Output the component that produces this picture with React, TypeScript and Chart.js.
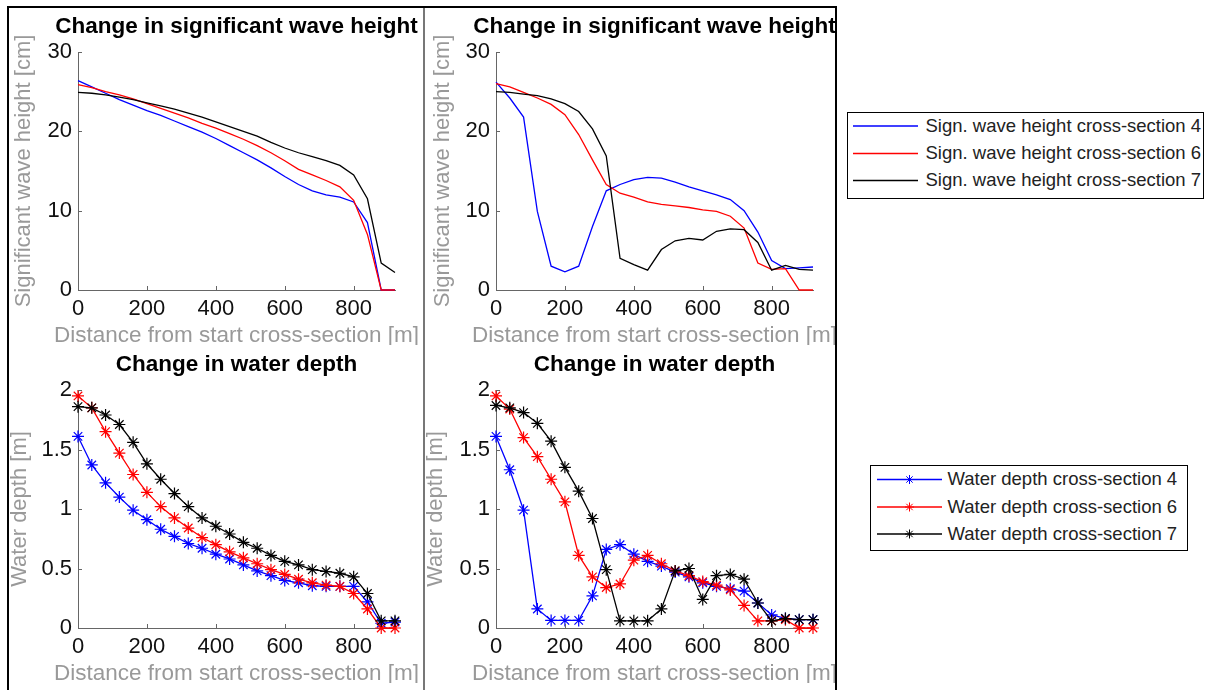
import React, { useEffect, useRef } from "react";
import { Chart, registerables } from "chart.js";

Chart.register(...registerables);

// ---------- data ----------
const distance = [0, 40, 80, 120, 160, 200, 240, 280, 320, 360, 400, 440, 480, 520, 560, 600, 640, 680, 720, 760, 800, 840, 880, 920];

const xTickValues = [0, 200, 400, 600, 800];
const xTickLabels = ["0", "200", "400", "600", "800"];
const waveTickValues = [0, 10, 20, 30];
const waveTickLabels = ["0", "10", "20", "30"];
const depthTickValues = [0, 0.5, 1, 1.5, 2];
const depthTickLabels = ["0", "0.5", "1", "1.5", "2"];

// left column – significant wave height [cm]
const waveA4 = [26.4, 25.6, 24.8, 24.0, 23.3, 22.6, 22.0, 21.3, 20.6, 19.9, 19.1, 18.2, 17.3, 16.4, 15.4, 14.3, 13.3, 12.5, 12.0, 11.7, 11.1, 8.5, 0, 0];
const waveA6 = [25.9, 25.5, 25.0, 24.6, 24.1, 23.5, 22.9, 22.3, 21.7, 21.0, 20.4, 19.7, 19.0, 18.2, 17.3, 16.3, 15.2, 14.5, 13.8, 13.0, 11.3, 7.0, 0, 0];
const waveA7 = [24.9, 24.8, 24.6, 24.3, 24.0, 23.6, 23.2, 22.8, 22.3, 21.8, 21.2, 20.6, 20.0, 19.4, 18.6, 17.9, 17.3, 16.8, 16.3, 15.7, 14.5, 11.5, 3.4, 2.2];

// right column – significant wave height [cm]
const waveB4 = [26.2, 24.2, 21.8, 9.9, 3.0, 2.3, 3.0, 8.0, 12.5, 13.3, 13.9, 14.2, 14.1, 13.6, 13.0, 12.5, 12.0, 11.4, 10.0, 7.3, 3.7, 2.7, 2.8, 2.9];
const waveB6 = [26.0, 25.6, 24.9, 24.2, 23.4, 22.1, 19.6, 16.4, 13.3, 12.2, 11.7, 11.1, 10.8, 10.6, 10.4, 10.1, 9.9, 9.3, 7.8, 3.4, 2.6, 2.7, 0, 0];
const waveB7 = [25.0, 24.9, 24.7, 24.5, 24.1, 23.5, 22.5, 20.3, 16.9, 4.0, 3.2, 2.5, 5.1, 6.2, 6.5, 6.3, 7.4, 7.7, 7.6, 6.0, 2.5, 3.1, 2.6, 2.5];

// left column – water depth [m]
const depthA4 = [1.61, 1.37, 1.22, 1.10, 0.99, 0.91, 0.83, 0.77, 0.71, 0.67, 0.62, 0.58, 0.53, 0.48, 0.44, 0.40, 0.38, 0.355, 0.35, 0.35, 0.35, 0.22, 0.04, 0.05];
const depthA6 = [1.95, 1.85, 1.65, 1.47, 1.29, 1.14, 1.02, 0.925, 0.84, 0.76, 0.70, 0.64, 0.59, 0.54, 0.49, 0.45, 0.41, 0.38, 0.36, 0.35, 0.29, 0.16, 0, 0];
const depthA7 = [1.86, 1.85, 1.79, 1.71, 1.56, 1.38, 1.25, 1.13, 1.02, 0.925, 0.855, 0.79, 0.72, 0.67, 0.61, 0.56, 0.53, 0.49, 0.475, 0.46, 0.43, 0.29, 0.06, 0.06];

// right column – water depth [m]
const depthB4 = [1.61, 1.33, 0.99, 0.16, 0.064, 0.064, 0.064, 0.27, 0.66, 0.70, 0.62, 0.56, 0.52, 0.47, 0.43, 0.38, 0.35, 0.33, 0.31, 0.21, 0.11, 0.08, 0.07, 0.07];
const depthB6 = [1.95, 1.84, 1.60, 1.44, 1.25, 1.06, 0.61, 0.43, 0.34, 0.37, 0.57, 0.61, 0.54, 0.48, 0.44, 0.39, 0.36, 0.32, 0.19, 0.06, 0.06, 0.07, 0, 0];
const depthB7 = [1.87, 1.85, 1.81, 1.72, 1.57, 1.35, 1.15, 0.92, 0.49, 0.06, 0.06, 0.06, 0.16, 0.48, 0.50, 0.24, 0.44, 0.45, 0.41, 0.21, 0.06, 0.08, 0.07, 0.07];

const waveLabels = ["Sign. wave height cross-section 4", "Sign. wave height cross-section 6", "Sign. wave height cross-section 7"];
const depthLabels = ["Water depth cross-section 4", "Water depth cross-section 6", "Water depth cross-section 7"];
const seriesColors = ["#0000ff", "#ff0000", "#000000"];

const waveTitle = "Change in significant wave height";
const depthTitle = "Change in water depth";
const xAxisTitle = "Distance from start cross-section [m]";
const waveAxisTitle = "Significant wave height [cm]";
const depthAxisTitle = "Water depth [m]";

// ---------- styling ----------
const FONT = "'Liberation Sans', Arial, Helvetica, sans-serif";
const AXIS_COLOR = "#666666";
const AXIS_TITLE_COLOR = "#999999";
const CANVAS_W = 473;
const CANVAS_H = 345;

const decorPlugin = {
  id: "decor",
  afterDraw(chart: any, _args: any, opts: any) {
    const { ctx, chartArea: ca, scales } = chart;
    const xs = scales.x;
    const ys = scales.y;
    ctx.save();
    // inward tick marks
    ctx.strokeStyle = AXIS_COLOR;
    ctx.lineWidth = 1;
    ctx.beginPath();
    xs.ticks.forEach((t: any) => {
      const px = Math.round(xs.getPixelForValue(t.value)) + 0.5;
      ctx.moveTo(px, ca.bottom);
      ctx.lineTo(px, ca.bottom - 4);
    });
    ys.ticks.forEach((t: any) => {
      const py = Math.round(ys.getPixelForValue(t.value)) + 0.5;
      ctx.moveTo(ca.left, py);
      ctx.lineTo(ca.left + 4, py);
    });
    ctx.stroke();
    // axis titles (drawn without width compression)
    ctx.fillStyle = AXIS_TITLE_COLOR;
    ctx.textAlign = "center";
    ctx.textBaseline = "middle";
    ctx.font = `22.5px ${FONT}`;
    ctx.fillText(opts.xTitle, (ca.left + ca.right) / 2, ca.bottom + opts.xTitleOffset);
    ctx.font = `22px ${FONT}`;
    ctx.translate(ca.left - opts.yTitleOffset, (ca.top + ca.bottom) / 2);
    ctx.rotate(-Math.PI / 2);
    ctx.fillText(opts.yTitle, 0, 0);
    ctx.restore();
  },
};

type PanelProps = {
  left: number;
  top: number;
  title: string;
  yTitle: string;
  yTitleOffset: number;
  yMax: number;
  yTicks: number[];
  yTickLabels: string[];
  series: number[][];
  labels: string[];
  markers: boolean;
};

function Panel(p: PanelProps) {
  const ref = useRef<HTMLCanvasElement>(null);
  useEffect(() => {
    const n = p.series.length;
    const chart = new Chart(ref.current as HTMLCanvasElement, {
      type: "line",
      data: {
        datasets: p.series.map((vals, i) => ({
          label: p.labels[i],
          data: distance.map((d, j) => ({ x: d, y: vals[j] })),
          borderColor: seriesColors[i],
          backgroundColor: seriesColors[i],
          borderWidth: 1.3,
          tension: 0,
          pointStyle: "star",
          pointRadius: p.markers ? 6 : 0,
          pointHoverRadius: 0,
          pointBorderColor: seriesColors[i],
          pointBorderWidth: 1.2,
          clip: false,
          order: n - i,
          yAxisID: "y",
        })),
      } as any,
      options: {
        responsive: false,
        animation: false,
        events: [],
        layout: { padding: 0 },
        plugins: {
          legend: { display: false },
          tooltip: { enabled: false },
          title: {
            display: true,
            text: p.title,
            color: "#000000",
            font: { family: FONT, size: 22.5, weight: "bold", lineHeight: 1.2 },
            padding: { top: 13.5, bottom: 11.5 },
          },
          decor: {
            xTitle: xAxisTitle,
            yTitle: p.yTitle,
            xTitleOffset: 46,
            yTitleOffset: p.yTitleOffset,
          },
        } as any,
        scales: {
          x: {
            type: "linear",
            min: 0,
            max: 920,
            grid: { display: false, drawTicks: false, tickLength: 0 },
            border: { display: true, color: AXIS_COLOR, width: 1 },
            ticks: {
              color: "#111111",
              font: { family: FONT, size: 22 },
              padding: 6,
              maxRotation: 0,
              autoSkip: false,
              callback: (_v: any, i: number) => xTickLabels[i],
            },
            afterBuildTicks: (s: any) => {
              s.ticks = xTickValues.map((v) => ({ value: v }));
            },
            afterFit: (s: any) => {
              s.height = 55;
            },
          },
          y: {
            type: "linear",
            position: "left",
            min: 0,
            max: p.yMax,
            grid: { display: false, drawTicks: false, tickLength: 0 },
            border: { display: true, color: AXIS_COLOR, width: 1 },
            ticks: {
              color: "#111111",
              font: { family: FONT, size: 22 },
              padding: 6,
              autoSkip: false,
              callback: (_v: any, i: number) => p.yTickLabels[i],
            },
            afterBuildTicks: (s: any) => {
              s.ticks = p.yTicks.map((v) => ({ value: v }));
            },
            afterFit: (s: any) => {
              s.width = 78;
            },
          },
          // empty right-hand spacer so the title is centred over the plot area
          yR: {
            type: "linear",
            position: "right",
            min: 0,
            max: p.yMax,
            grid: { display: false, drawTicks: false, tickLength: 0 },
            border: { display: false },
            ticks: { display: false },
            afterFit: (s: any) => {
              s.width = 78;
            },
          },
        } as any,
      },
      plugins: [decorPlugin as any],
    });
    return () => chart.destroy();
  }, []);
  return (
    <canvas
      ref={ref}
      width={CANVAS_W}
      height={CANVAS_H}
      style={{ position: "absolute", left: p.left, top: p.top, width: CANVAS_W, height: CANVAS_H }}
    />
  );
}

function Asterisk({ cx, cy, r, color }: { cx: number; cy: number; r: number; color: string }) {
  const d = r * Math.SQRT1_2;
  return (
    <g stroke={color} strokeWidth={1}>
      <line x1={cx - r} y1={cy} x2={cx + r} y2={cy} />
      <line x1={cx} y1={cy - r} x2={cx} y2={cy + r} />
      <line x1={cx - d} y1={cy - d} x2={cx + d} y2={cy + d} />
      <line x1={cx - d} y1={cy + d} x2={cx + d} y2={cy - d} />
    </g>
  );
}

type LegendProps = {
  left: number;
  top: number;
  width: number;
  height: number;
  labels: string[];
  rowCenters: number[]; // relative to box top
  lineX0: number;
  lineX1: number;
  textX: number;
  markers: boolean;
};

function Legend(l: LegendProps) {
  return (
    <div
      style={{
        position: "absolute",
        left: l.left,
        top: l.top,
        width: l.width,
        height: l.height,
        border: "1.5px solid #000",
        boxSizing: "border-box",
        background: "#fff",
      }}
    >
      <svg width={l.width} height={l.height} style={{ position: "absolute", left: -1.5, top: -1.5 }}>
        {l.labels.map((_, i) => (
          <g key={i}>
            <line x1={l.lineX0} y1={l.rowCenters[i]} x2={l.lineX1} y2={l.rowCenters[i]} stroke={seriesColors[i]} strokeWidth={1.5} />
            {l.markers ? <Asterisk cx={(l.lineX0 + l.lineX1) / 2} cy={l.rowCenters[i]} r={4.5} color={seriesColors[i]} /> : null}
          </g>
        ))}
      </svg>
      {l.labels.map((t, i) => (
        <div
          key={i}
          style={{
            position: "absolute",
            left: l.textX - 1.5,
            top: l.rowCenters[i] - 11 - 1.5,
            height: 22,
            lineHeight: "22px",
            fontFamily: FONT,
            fontSize: 18.5,
            color: "#222",
            whiteSpace: "nowrap",
          }}
        >
          {t}
        </div>
      ))}
    </div>
  );
}

export default function App() {
  const frame = (s: React.CSSProperties) => <div style={{ position: "absolute", ...s }} />;
  return (
    <div style={{ position: "fixed", left: 0, top: 0, width: 1208, height: 690, background: "#fff", overflow: "hidden" }}>
      <Panel left={0} top={0} title={waveTitle} yTitle={waveAxisTitle} yTitleOffset={54} yMax={30}
        yTicks={waveTickValues} yTickLabels={waveTickLabels} series={[waveA4, waveA6, waveA7]} labels={waveLabels} markers={false} />
      <Panel left={418} top={0} title={waveTitle} yTitle={waveAxisTitle} yTitleOffset={53} yMax={30}
        yTicks={waveTickValues} yTickLabels={waveTickLabels} series={[waveB4, waveB6, waveB7]} labels={waveLabels} markers={false} />
      <Panel left={0} top={338} title={depthTitle} yTitle={depthAxisTitle} yTitleOffset={58} yMax={2}
        yTicks={depthTickValues} yTickLabels={depthTickLabels} series={[depthA4, depthA6, depthA7]} labels={depthLabels} markers={true} />
      <Panel left={418} top={338} title={depthTitle} yTitle={depthAxisTitle} yTitleOffset={60} yMax={2}
        yTicks={depthTickValues} yTickLabels={depthTickLabels} series={[depthB4, depthB6, depthB7]} labels={depthLabels} markers={true} />

      {frame({ left: 7, top: 6, width: 830, height: 2, background: "#000" })}
      {frame({ left: 7, top: 6, width: 2, height: 684, background: "#000" })}
      {frame({ left: 835, top: 6, width: 2, height: 684, background: "#000" })}
      {frame({ left: 423, top: 8, width: 2, height: 682, background: "#777" })}

      <Legend left={847} top={112} width={357} height={87} labels={waveLabels}
        rowCenters={[14, 41.5, 68.5]} lineX0={6} lineX1={71} textX={79} markers={false} />
      <Legend left={870} top={465} width={318} height={86} labels={depthLabels}
        rowCenters={[14.5, 42, 69]} lineX0={7} lineX1={72} textX={78} markers={true} />
    </div>
  );
}
